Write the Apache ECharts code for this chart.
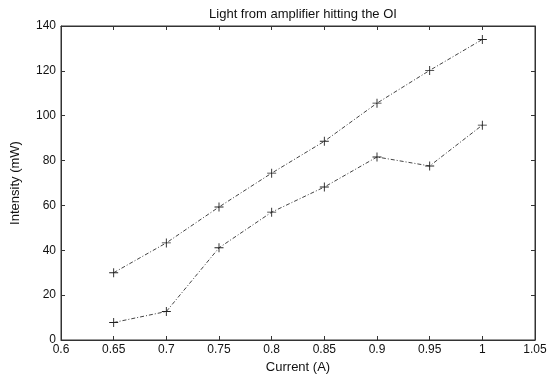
<!DOCTYPE html>
<html>
<head>
<meta charset="utf-8">
<script src="https://cdn.jsdelivr.net/npm/echarts@6/dist/echarts.min.js"></script>
<style>
html,body{margin:0;padding:0;background:#fff;}
#chart{width:552px;height:379px;}
</style>
</head>
<body>
<div id="chart"></div>
<script>
var currents = [0.65, 0.7, 0.75, 0.8, 0.85, 0.9, 0.95, 1.0];
var upperIntensity = [30, 43.3, 59.3, 74.4, 88.6, 105.6, 120.2, 134];
var lowerIntensity = [7.8, 12.7, 41.1, 57, 68.2, 81.6, 77.6, 95.8];
var titleText = 'Light from amplifier hitting the OI';
var xName = 'Current (A)';
var yName = 'Intensity (mW)';

function pairs(xs, ys){ return xs.map(function(x,i){ return [x, ys[i]]; }); }

var font = 'Liberation Sans, Arial, sans-serif';
var plus = 'path://M-0.5,-5L0.5,-5L0.5,-0.5L5,-0.5L5,0.5L0.5,0.5L0.5,5L-0.5,5L-0.5,0.5L-5,0.5L-5,-0.5L-0.5,-0.5Z';
var axisLine = {show:true, onZero:false, lineStyle:{color:'#333', width:1}};
var tick = {show:true, inside:true, length:4, lineStyle:{color:'#333'}};
var lbl = {color:'#111', fontFamily:font, fontSize:12};

var chart = echarts.init(document.getElementById('chart'));
chart.setOption({
  animation:false,
  backgroundColor:'#fff',
  title:{text:titleText, left:298, textAlign:'center', top:3,
    textStyle:{fontFamily:font, fontSize:13, fontWeight:'normal', color:'#111'}},
  grid:{left:61, right:17, top:26, bottom:38, show:true, borderColor:'#333', borderWidth:1},
  xAxis:[{
    type:'value', min:0.6, max:1.05, interval:0.05, position:'bottom',
    name:xName, nameLocation:'middle', nameGap:21,
    nameTextStyle:{fontFamily:font, fontSize:13, color:'#111'},
    axisLine:axisLine, axisTick:tick, splitLine:{show:false},
    axisLabel:Object.assign({margin:4, formatter:function(v){return String(+v.toFixed(2));}}, lbl)
  },{
    type:'value', min:0.6, max:1.05, interval:0.05, position:'top', show:true,
    axisLine:axisLine, axisTick:tick, splitLine:{show:false}, axisLabel:{show:false}
  }],
  yAxis:[{
    type:'value', min:0, max:140, interval:20, position:'left',
    name:yName, nameLocation:'middle', nameGap:39, nameRotate:90,
    nameTextStyle:{fontFamily:font, fontSize:13, color:'#111'},
    axisLine:axisLine, axisTick:tick, splitLine:{show:false},
    axisLabel:Object.assign({margin:5}, lbl)
  },{
    type:'value', min:0, max:140, interval:20, position:'right', show:true,
    axisLine:axisLine, axisTick:tick, splitLine:{show:false}, axisLabel:{show:false}
  }],
  series:[{
    type:'line', data:pairs(currents, upperIntensity),
    symbol:plus, symbolSize:9,
    itemStyle:{color:'#222'},
    lineStyle:{color:'#444', width:1, type:[4,2,1,2]}
  },{
    type:'line', data:pairs(currents, lowerIntensity),
    symbol:plus, symbolSize:9,
    itemStyle:{color:'#222'},
    lineStyle:{color:'#444', width:1, type:[4,2,1,2]}
  },{
    type:'line', xAxisIndex:1, yAxisIndex:1, data:[], silent:true
  }]
});
</script>
</body>
</html>
